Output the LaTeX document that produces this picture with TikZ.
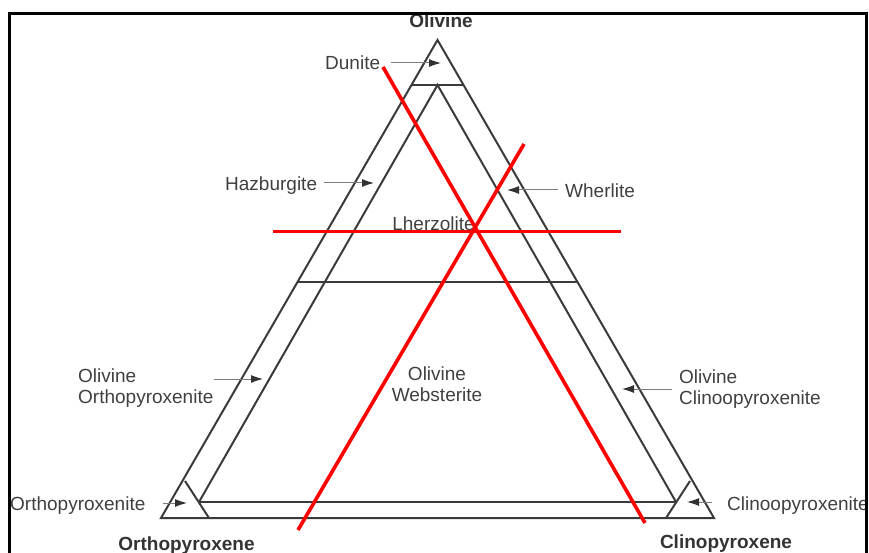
\documentclass[tikz,border=0pt]{standalone}
\usepackage{fontspec}
\setmainfont{Liberation Sans}
\usepackage{tikz}
\usetikzlibrary{arrows.meta,calc}
\definecolor{linegray}{RGB}{58,58,58}
\definecolor{textgray}{RGB}{64,64,64}
\definecolor{arrgray}{RGB}{125,125,125}
\definecolor{tipgray}{RGB}{50,50,50}
\tikzset{
  fieldline/.style={draw=linegray,line width=2pt},
  redline/.style={draw=red,line width=3.6pt},
  framebar/.style={draw=black,line width=3pt},
  rocklbl/.style={inner sep=0pt,text=textgray,font=\fontsize{19}{21}\selectfont},
  minlbl/.style={inner sep=0pt,text=black!80,font=\fontsize{19}{21}\selectfont\bfseries},
  lblarr/.style={-{Latex[length=12pt,width=8pt,color=tipgray]},draw=arrgray,line width=1pt}
}

\begin{document}
\begin{tikzpicture}[x=1pt,y=-1pt]
  \useasboundingbox (0,0) rectangle (869,553);
  % corners of the ternary
  \coordinate (ol) at (437.5,40);
  \coordinate (opx) at (161,518);
  \coordinate (cpx) at (714,518);
  % field boundaries
  \coordinate (du1) at (411.5,85);
  \coordinate (du2) at (463.5,85);
  \coordinate (lz1) at (297.5,282);
  \coordinate (lz2) at (577.5,282);
  \coordinate (inap) at (437.5,85);
  \coordinate (inl) at (199,502);
  \coordinate (inr) at (676,502);
  \coordinate (ox1) at (185,481);
  \coordinate (ox2) at (209,518);
  \coordinate (cx1) at (690,481);
  \coordinate (cx2) at (666,518);
  \draw[fieldline] (ol) -- (opx) -- (cpx) -- cycle;
  \draw[fieldline] (du1) -- (du2);
  \draw[fieldline] (lz1) -- (lz2);
  \draw[fieldline] (inl) -- (inap) -- (inr);
  \draw[fieldline] (inl) -- (inr);
  \draw[fieldline] (ox1) -- (ox2);
  \draw[fieldline] (cx1) -- (cx2);

  % end members
  \node[minlbl,anchor=base] (olv) at (441,28) {Olivine};
  \node[minlbl,anchor=base] (orthopx) at (186.5,550) {Orthopyroxene};
  \node[minlbl,anchor=base] (clinopx) at (726,548) {Clinopyroxene};

  % rock names
  \node[rocklbl,anchor=base west] (dun) at (325,70) {Dunite};
  \node[rocklbl,anchor=base west] (hzb) at (225,191) {Hazburgite};
  \node[rocklbl,anchor=base west] (whr) at (565,198) {Wherlite};
  \node[rocklbl,anchor=base] (lhz) at (433.5,230) {Lherzolite};
  \node[rocklbl,anchor=north west,align=left] (oopx) at (78,369) {Olivine\\Orthopyroxenite};
  \node[rocklbl,anchor=north,align=center] (oweb) at (437,367) {Olivine\\Websterite};
  \node[rocklbl,anchor=north west,align=left] (ocpx) at (679,370) {Olivine\\Clinoopyroxenite};
  \node[rocklbl,anchor=base west] (opxite) at (10,510) {Orthopyroxenite};
  \node[rocklbl,anchor=base west] (cpxite) at (727,510) {Clinoopyroxenite};

  \coordinate (duntip) at (441,63);
  \coordinate (hzbtip) at (374,183);
  \coordinate (whrtip) at (507,190);
  \coordinate (oopxtip) at (263,379);
  \coordinate (ocpxtip) at (622,389);
  \coordinate (opxtip) at (187,503);
  \coordinate (cpxtip) at (687,502);
  \draw[lblarr,shorten <=11pt] (dun.east |- duntip) -- (duntip);
  \draw[lblarr,shorten <=7pt] (hzb.east |- hzbtip) -- (hzbtip);
  \draw[lblarr,shorten <=7pt] (whr.west |- whrtip) -- (whrtip);
  \draw[lblarr] (oopx.east |- oopxtip) -- (oopxtip);
  \draw[lblarr,shorten <=7pt] (ocpx.west |- ocpxtip) -- (ocpxtip);
  \draw[lblarr,shorten <=17pt] (opxite.east |- opxtip) -- (opxtip);
  \draw[lblarr,shorten <=15pt] (cpxite.west |- cpxtip) -- (cpxtip);

  % red lines
  \coordinate (rh1) at (273,231.5);
  \coordinate (rh2) at (621,231.5);
  \coordinate (ra1) at (383,67);
  \coordinate (ra2) at (645,523);
  \coordinate (rb1) at (524,144);
  \coordinate (rb2) at (298,530);
  \draw[redline] (rh1) -- (rh2);
  \draw[redline] (ra1) -- (ra2);
  \draw[redline] (rb1) -- (rb2);

  % frame
  \draw[framebar] (9,553) -- (9,13.5) -- (866.5,13.5) -- (866.5,553);
\end{tikzpicture}
\end{document}
